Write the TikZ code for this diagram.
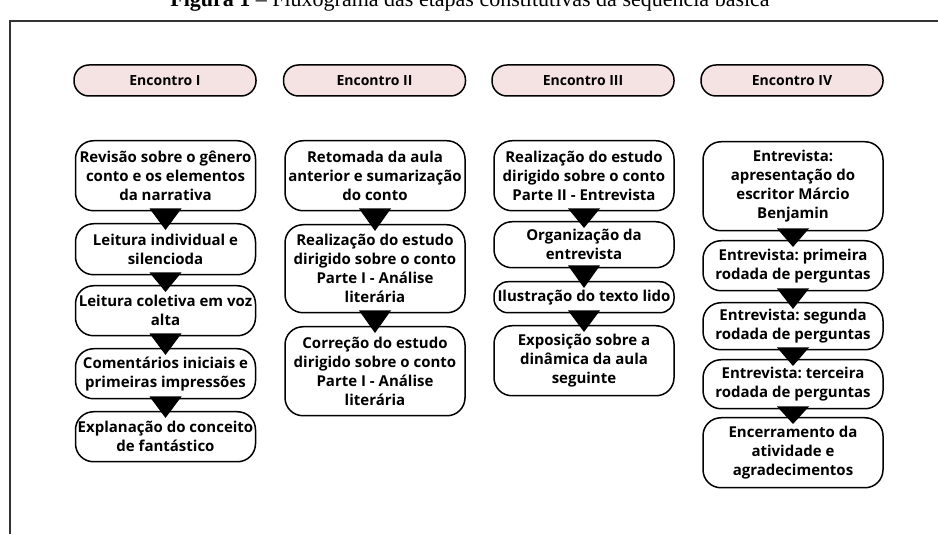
\documentclass[tikz,border=0pt]{standalone}
\usepackage{fontspec}
\setmainfont{Open Sans}
\newfontfamily\capfont{Liberation Serif}
\usetikzlibrary{calc}
\definecolor{pill}{HTML}{F5E2E2}
\definecolor{framec}{HTML}{333333}
\tikzset{
  stagebox/.style={draw=black, line width=1.5pt, rounded corners=18pt, align=center,
    minimum width=180pt, inner sep=0pt, anchor=north,
    font=\frenchspacing\bfseries\fontsize{15}{19}\selectfont},
  headbox/.style={draw=black, line width=1.5pt, fill=pill, rounded corners=15pt,
    minimum width=182pt, minimum height=31pt, inner sep=0pt,
    font=\bfseries\fontsize{14}{16}\selectfont},
  tri/.style={fill=black}
}
\newcommand{\flowtri}[2]{\fill[tri] ($(#1.south)+(-16,-3)$) -- ($(#1.south)+(16,-3)$) -- ($(#2.north)+(0,7)$) -- cycle;}
\begin{document}
\begin{tikzpicture}[x=1pt,y=-1pt]
\useasboundingbox (0,0) rectangle (938,534);
\clip (0,0) rectangle (938,534);
\fill[white] (0,0) rectangle (938,534);
% caption (cut off at top)
\node[anchor=base, inner sep=0pt, font=\capfont\fontsize{22}{24}\selectfont] (cap) at (470,6.5)
  {\textbf{Figura 1} – Fluxograma das etapas constitutivas da sequência básica};
% frame
\draw[framec, line width=2pt] (10,540) -- (10,21) -- (945,21);
% headers
\node[headbox] (h1) at (165,80.5) {Encontro I};
\node[headbox] (h2) at (374.5,80.5) {Encontro II};
\node[headbox] (h3) at (583,80.5) {Encontro III};
\node[headbox] (h4) at (792,80.5) {Encontro IV};
% column 1
\node[stagebox, minimum height=70pt] (a1) at (165.5,140) {Revisão sobre o gênero\\conto e os elementos\\da narrativa};
\node[stagebox, minimum height=51pt] (a2) at (165.5,223) {Leitura individual e\\silencioda};
\node[stagebox, minimum height=50pt] (a3) at (165.5,285) {Leitura coletiva em voz\\alta};
\node[stagebox, minimum height=50pt] (a4) at (165.5,348) {Comentários iniciais e\\primeiras impressões};
\node[stagebox, minimum height=50pt] (a5) at (165.5,411) {Explanação do conceito\\de fantástico};
% column 2
\node[stagebox, minimum height=70pt] (b1) at (375,140) {Retomada da aula\\anterior e sumarização\\do conto};
\node[stagebox, minimum height=88pt] (b2) at (375,224) {Realização do estudo\\dirigido sobre o conto\\Parte I - Análise\\literária};
\node[stagebox, minimum height=89pt] (b3) at (375,326) {Correção do estudo\\dirigido sobre o conto\\Parte I - Análise\\literária};
% column 3
\node[stagebox, minimum height=70pt] (c1) at (584,140) {Realização do estudo\\dirigido sobre o conto\\Parte II - Entrevista};
\node[stagebox, minimum height=46pt] (c2) at (584,221) {Organização da\\entrevista};
\node[stagebox, minimum height=31pt, rounded corners=14pt] (c3) at (584,281) {Ilustração do texto lido};
\node[stagebox, minimum height=70pt] (c4) at (584,325) {Exposição sobre a\\dinâmica da aula\\seguinte};
% column 4
\node[stagebox, minimum height=89pt] (d1) at (793,141) {Entrevista:\\apresentação do\\escritor Márcio\\Benjamin};
\node[stagebox, minimum height=50pt] (d2) at (793,240) {Entrevista: primeira\\rodada de perguntas};
\node[stagebox, minimum height=47pt] (d3) at (793,302) {Entrevista: segunda\\rodada de perguntas};
\node[stagebox, minimum height=49pt] (d4) at (793,359) {Entrevista: terceira\\rodada de perguntas};
\node[stagebox, minimum height=70pt] (d5) at (793,417) {Encerramento da\\atividade e\\agradecimentos};
% connectors (triangles)
\flowtri{a1}{a2}
\flowtri{a2}{a3}
\flowtri{a3}{a4}
\flowtri{a4}{a5}
\flowtri{b1}{b2}
\flowtri{b2}{b3}
\flowtri{c1}{c2}
\flowtri{c2}{c3}
\flowtri{c3}{c4}
\flowtri{d1}{d2}
\flowtri{d2}{d3}
\flowtri{d3}{d4}
\flowtri{d4}{d5}
\end{tikzpicture}
\end{document}
